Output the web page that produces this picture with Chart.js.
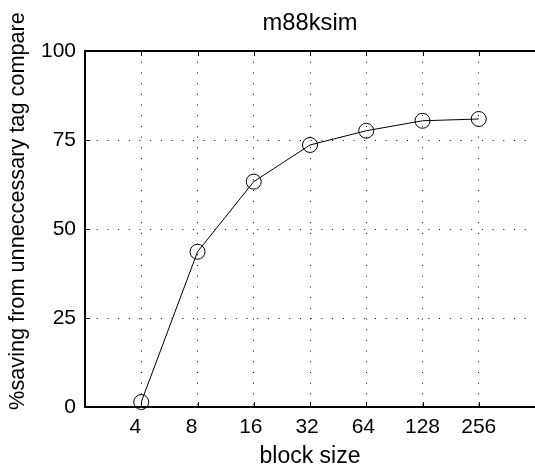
<!DOCTYPE html>
<html><head><meta charset="utf-8">
<script src="https://cdn.jsdelivr.net/npm/chart.js@4/dist/chart.umd.min.js"></script>
<style>html,body{margin:0;padding:0;background:#fff;overflow:hidden}#wrap{width:535px;height:475px;position:relative}</style>
</head><body><div id="wrap"><canvas id="c" width="535" height="475"></canvas></div>
<script>
const blockSizes = ['4','8','16','32','64','128','256'];
const savingPct = [1.4, 43.6, 63.3, 73.6, 77.6, 80.4, 80.9];
const yTicks = [0, 25, 50, 75, 100];
const titleText = 'm88ksim';
const xTitle = 'block size';
const yTitle = '%saving from unneccessary tag compare';

const FONT = '"Liberation Sans", Arial, Helvetica, sans-serif';
Chart.defaults.font.family = FONT;
Chart.defaults.color = '#000';

const decorations = {
  id: 'decorations',
  afterDraw(chart) {
    const {ctx, chartArea: a, scales: {x, y}} = chart;
    ctx.save();
    ctx.strokeStyle = '#000';
    ctx.lineWidth = 1;
    ctx.beginPath();
    x.ticks.forEach(t => {
      const px = Math.round(x.getPixelForValue(t.value)) + 0.5;
      ctx.moveTo(px, a.bottom); ctx.lineTo(px, a.bottom - 5);
      ctx.moveTo(px, a.top); ctx.lineTo(px, a.top + 5);
    });
    y.ticks.forEach(t => {
      const py = Math.round(y.getPixelForValue(t.value)) + 0.5;
      ctx.moveTo(a.left, py); ctx.lineTo(a.left + 5, py);
    });
    ctx.stroke();
    // y-axis label, placed like the original figure (slightly above the axis centre)
    ctx.fillStyle = '#000';
    ctx.font = '21.7px ' + FONT;
    ctx.textAlign = 'center';
    ctx.textBaseline = 'middle';
    ctx.translate(18, (a.top + a.bottom) / 2 - 18);
    ctx.rotate(-Math.PI / 2);
    ctx.fillText(yTitle, 0, 0);
    ctx.restore();
  }
};

new Chart(document.getElementById('c'), {
  type: 'line',
  data: {
    datasets: [{
      data: savingPct.map((v, i) => ({x: i + 1, y: v})),
      borderColor: '#000',
      borderWidth: 1,
      tension: 0,
      fill: false,
      pointStyle: 'circle',
      pointRadius: 7.5,
      pointBorderWidth: 1,
      pointBorderColor: '#000',
      pointBackgroundColor: 'rgba(0,0,0,0)',
      clip: false
    }]
  },
  options: {
    responsive: false,
    devicePixelRatio: 1,
    animation: false,
    layout: {padding: 0, autoPadding: false},
    plugins: {
      legend: {display: false},
      tooltip: {enabled: false},
      title: {display: false}
    },
    scales: {
      x: {
        type: 'linear',
        min: 0, max: 8,
        afterBuildTicks: s => { s.ticks = blockSizes.map((_, i) => ({value: i + 1})); },
        afterFit: s => { s.height = 68; },
        ticks: {
          font: {size: 21},
          color: '#000',
          padding: 8,
          maxRotation: 0,
          autoSkip: false,
          callback: v => (blockSizes[v - 1] || '').padEnd(3, ' ')
        },
        grid: {color: '#000', lineWidth: 1, drawTicks: false},
        border: {display: true, color: '#000', width: 2, dash: [1, 9.7]},
        title: {display: true, text: xTitle, color: '#000', font: {size: 23}, padding: {top: 0, bottom: 4.2}}
      },
      xTop: {
        type: 'linear',
        position: 'top',
        min: 0, max: 8,
        afterBuildTicks: s => { s.ticks = []; },
        afterFit: s => { s.height = 51; },
        ticks: {display: false},
        grid: {display: false, drawTicks: false},
        border: {display: true, color: '#000', width: 2},
        title: {display: true, text: titleText, color: '#000', font: {size: 23.7}, padding: {top: 9.6, bottom: 0}}
      },
      y: {
        min: 0, max: 100,
        afterBuildTicks: s => { s.ticks = yTicks.map(v => ({value: v})); },
        afterFit: s => { s.width = 85; },
        ticks: {font: {size: 21}, color: '#000', padding: 9},
        grid: {color: '#000', lineWidth: 1, drawTicks: false},
        border: {display: true, color: '#000', width: 2, dash: [1, 9.7]},
        title: {display: false}
      }
    }
  },
  plugins: [decorations]
});
</script></body></html>
